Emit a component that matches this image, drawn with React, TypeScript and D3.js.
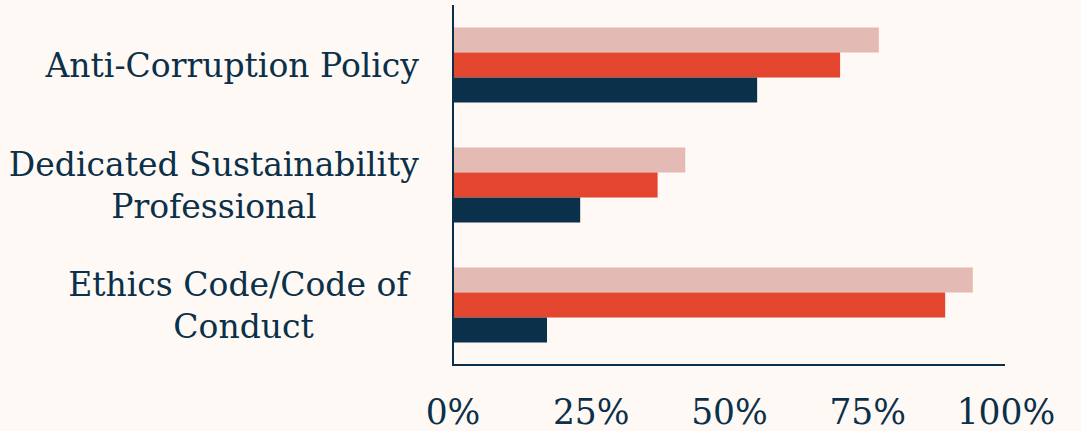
import React, { useEffect, useRef } from "react";
import * as d3 from "d3";

const categories: string[][] = [
  ["Anti-Corruption Policy"],
  ["Dedicated Sustainability", "Professional"],
  ["Ethics Code/Code of ", "Conduct"],
];
const seriesNames = ["Series A", "Series B", "Series C"];
const seriesA = [77, 42, 94];
const seriesB = [70, 37, 89];
const seriesC = [55, 23, 17];
const seriesColors = ["#E4BAB5", "#E3452F", "#0B3049"];
const tickValues = [0, 25, 50, 75, 100];
const tickLabels = ["0%", "25%", "50%", "75%", "100%"];

const W = 1081;
const H = 431;
const INK = "#0B3049";
const BG = "#FFF9F5";
const FONT = "'DejaVu Serif', serif";

export default function App() {
  const ref = useRef<SVGSVGElement | null>(null);

  useEffect(() => {
    document.body.style.margin = "0";
    document.body.style.background = BG;
    const svg = d3.select(ref.current);
    svg.selectAll("*").remove();

    const x = d3.scaleLinear().domain([0, 100]).range([453, 1006]);
    const catKeys = categories.map((c) => c.join(" "));
    const y = d3
      .scaleBand<string>()
      .domain(catKeys)
      .range([5, 365])
      .paddingInner(0.375)
      .paddingOuter(0.1875);
    const ySub = d3
      .scaleBand<string>()
      .domain(seriesNames)
      .range([0, y.bandwidth()]);

    svg.append("rect").attr("width", W).attr("height", H).attr("fill", BG);

    const values = [seriesA, seriesB, seriesC];
    seriesNames.forEach((s, si) => {
      svg
        .append("g")
        .selectAll("rect")
        .data(values[si])
        .join("rect")
        .attr("x", x(0))
        .attr("y", (_d, i) => (y(catKeys[i]) as number) + (ySub(s) as number))
        .attr("width", (d) => x(d) - x(0))
        .attr("height", ySub.bandwidth())
        .attr("fill", seriesColors[si]);
    });

    // axes lines
    svg
      .append("line")
      .attr("x1", x(0))
      .attr("x2", x(0))
      .attr("y1", 5)
      .attr("y2", 366)
      .attr("stroke", INK)
      .attr("stroke-width", 2);
    svg
      .append("line")
      .attr("x1", x(0) - 1)
      .attr("x2", 1005)
      .attr("y1", 365)
      .attr("y2", 365)
      .attr("stroke", INK)
      .attr("stroke-width", 2);

    // tick labels
    svg
      .append("g")
      .selectAll("text")
      .data(tickValues)
      .join("text")
      .attr("x", (d) => x(d))
      .attr("y", 424)
      .attr("text-anchor", "middle")
      .attr("font-family", FONT)
      .attr("font-size", 34.5)
      .attr("fill", INK)
      .text((_d, i) => tickLabels[i]);

    // category labels: lines centered within a block right-aligned
    const rightEdge = 419;
    const lineH = 42;
    categories.forEach((lines, ci) => {
      const cy = (y(catKeys[ci]) as number) + y.bandwidth() / 2;
      const g = svg.append("g");
      const texts = lines.map((ln, li) =>
        g
          .append("text")
          .attr("font-family", FONT)
          .attr("font-size", 33)
          .attr("fill", INK)
          .style("white-space", "pre")
          .attr("y", cy + 12 + (li - (lines.length - 1) / 2) * lineH)
          .text(ln)
      );
      const widths = texts.map((t) => (t.node() as SVGTextElement).getComputedTextLength());
      const maxW = d3.max(widths) || 0;
      const center = rightEdge - maxW / 2;
      texts.forEach((t, i) => t.attr("x", center - widths[i] / 2));
    });
  }, []);

  return (
    <svg
      ref={ref}
      width={W}
      height={H}
      style={{ position: "absolute", left: 0, top: 0, display: "block" }}
    />
  );
}
